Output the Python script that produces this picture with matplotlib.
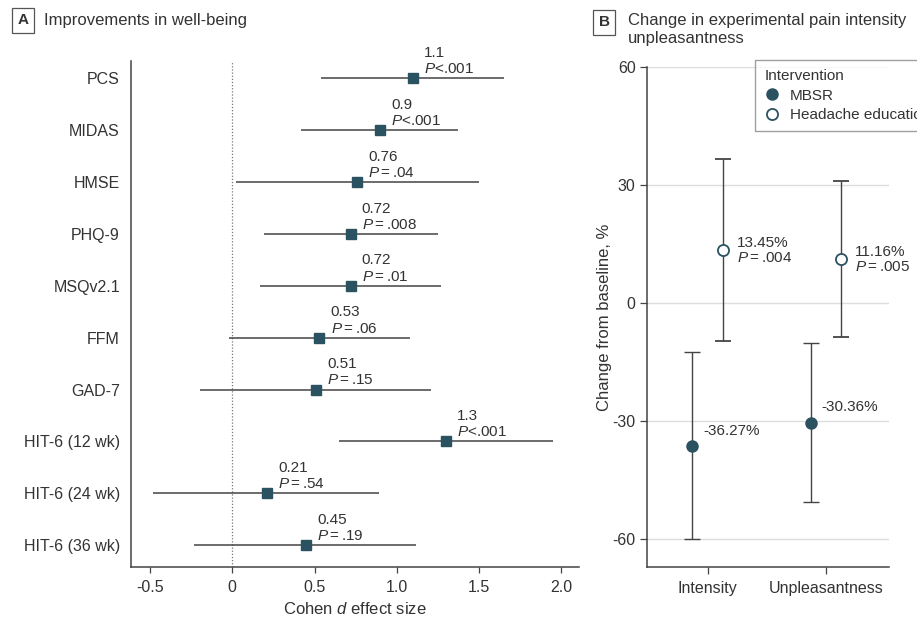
import matplotlib
matplotlib.use("Agg")
import matplotlib.pyplot as plt
from matplotlib.lines import Line2D

plt.rcParams["font.family"] = ["Liberation Sans", "DejaVu Sans"]
plt.rcParams["mathtext.fontset"] = "custom"
plt.rcParams["mathtext.rm"] = "Liberation Sans"
plt.rcParams["mathtext.it"] = "Liberation Sans:italic"

TEXT = "#333333"
TEAL = "#2b5261"
LINE = "#444444"

# Panel A: Cohen d effect sizes with 95% CI
measures = ["PCS", "MIDAS", "HMSE", "PHQ-9", "MSQv2.1", "FFM", "GAD-7",
            "HIT-6 (12 wk)", "HIT-6 (24 wk)", "HIT-6 (36 wk)"]
effect = [1.1, 0.9, 0.76, 0.72, 0.72, 0.53, 0.51, 1.3, 0.21, 0.45]
ci_low = [0.54, 0.42, 0.025, 0.195, 0.17, -0.02, -0.195, 0.65, -0.48, -0.23]
ci_high = [1.65, 1.37, 1.50, 1.25, 1.27, 1.08, 1.21, 1.95, 0.89, 1.12]
effect_text = ["1.1", "0.9", "0.76", "0.72", "0.72", "0.53", "0.51", "1.3", "0.21", "0.45"]
p_text = ["$P$<.001", "$P$<.001", "$P=$.04", "$P=$.008", "$P=$.01",
          "$P=$.06", "$P=$.15", "$P$<.001", "$P=$.54", "$P=$.19"]

# Panel B: change from baseline in experimental pain
outcomes = ["Intensity", "Unpleasantness"]
mbsr_mean = [-36.27, -30.36]
mbsr_low = [-60.0, -50.6]
mbsr_high = [-12.4, -10.1]
edu_mean = [13.45, 11.16]
edu_low = [-9.6, -8.6]
edu_high = [36.5, 31.1]
mbsr_text = ["-36.27%", "-30.36%"]
edu_text = ["13.45%\n$P=$.004", "11.16%\n$P=$.005"]

fig = plt.figure(figsize=(9.17, 6.19), dpi=100)

# ---------- panel A ----------
axA = fig.add_axes([131 / 917, 52 / 619, 448.3 / 917, 505.5 / 619])
ypos = list(range(len(measures) - 1, -1, -1))
axA.hlines(ypos, ci_low, ci_high, color=LINE, lw=1.1, zorder=2)
axA.plot(effect, ypos, "s", color=TEAL, ms=6.8, zorder=3)
axA.axvline(0, color="#777777", lw=0.9, ls=(0, (1, 1.5)), zorder=1)
for x, y, t1, t2 in zip(effect, ypos, effect_text, p_text):
    axA.annotate(t1 + "\n" + t2, (x, y), xytext=(8, 1.5), textcoords="offset points",
                 ha="left", va="bottom", fontsize=11, color=TEXT, linespacing=1.2)
axA.set_xlim(-0.616, 2.11)
axA.set_ylim(-0.42, 9.32)
axA.set_yticks(ypos)
axA.set_yticklabels(measures)
axA.set_xticks([-0.5, 0, 0.5, 1.0, 1.5, 2.0])
axA.set_xticklabels(["-0.5", "0", "0.5", "1.0", "1.5", "2.0"])
axA.tick_params(axis="y", length=0, pad=8, labelsize=11.5, labelcolor=TEXT)
axA.tick_params(axis="x", length=4, width=0.9, color=LINE, pad=5, labelsize=11.5, labelcolor=TEXT)
for s in ["top", "right"]:
    axA.spines[s].set_visible(False)
for s in ["left", "bottom"]:
    axA.spines[s].set_color(LINE)
    axA.spines[s].set_linewidth(1.1)
axA.set_xlabel("Cohen $d$ effect size", fontsize=12, color=TEXT, labelpad=5)

fig.text(23 / 917, 1 - 20.5 / 619, "A", fontsize=11, fontweight="bold", color=TEXT,
         ha="center", va="center",
         bbox=dict(boxstyle="square,pad=0.35", fc="white", ec="#555555", lw=0.9))
fig.text(44 / 917, 1 - 20.5 / 619, "Improvements in well-being", fontsize=12,
         color=TEXT, ha="left", va="center")

# ---------- panel B ----------
axB = fig.add_axes([646.7 / 917, 52 / 619, 242.3 / 917, 500.3 / 619])
xc = list(range(len(outcomes)))
off = 0.13
xm = [x - off for x in xc]
xe = [x + off for x in xc]
for yv in [60, 30, 0, -30, -60]:
    axB.axhline(yv, color="#dddddd", lw=1, zorder=0)
axB.errorbar(xm, mbsr_mean,
             yerr=[[m - l for m, l in zip(mbsr_mean, mbsr_low)],
                   [h - m for m, h in zip(mbsr_mean, mbsr_high)]],
             fmt="o", color=TEAL, ecolor=LINE, elinewidth=1, capsize=5.5, capthick=1,
             ms=8, zorder=3)
axB.errorbar(xe, edu_mean,
             yerr=[[m - l for m, l in zip(edu_mean, edu_low)],
                   [h - m for m, h in zip(edu_mean, edu_high)]],
             fmt="o", mfc="white", mec=TEAL, mew=1.3, ecolor=LINE, elinewidth=1,
             capsize=5.5, capthick=1, ms=8, zorder=3)
for x, y, t in zip(xm, mbsr_mean, mbsr_text):
    axB.annotate(t, (x, y), xytext=(8, 6), textcoords="offset points",
                 ha="left", va="bottom", fontsize=11, color=TEXT)
for x, y, t in zip(xe, edu_mean, edu_text):
    axB.annotate(t, (x, y), xytext=(10, 0), textcoords="offset points",
                 ha="left", va="center", fontsize=11, color=TEXT, linespacing=1.1)
axB.set_xlim(-0.516, 1.533)
axB.set_ylim(-67, 60)
axB.set_xticks(xc)
axB.set_xticklabels(outcomes)
axB.set_yticks([60, 30, 0, -30, -60])
axB.set_yticklabels(["60", "30", "0", "-30", "-60"])
axB.tick_params(axis="both", length=5, width=0.9, color=LINE, labelsize=11.5, labelcolor=TEXT)
axB.tick_params(axis="x", pad=5)
axB.tick_params(axis="y", pad=3)
for s in ["top", "right"]:
    axB.spines[s].set_visible(False)
for s in ["left", "bottom"]:
    axB.spines[s].set_color(LINE)
    axB.spines[s].set_linewidth(1.1)
axB.set_ylabel("Change from baseline, %", fontsize=12, color=TEXT, labelpad=0)

handles = [
    Line2D([], [], ls="none", marker="o", color=TEAL, ms=8),
    Line2D([], [], ls="none", marker="o", mfc="white", mec=TEAL, mew=1.3, ms=8),
]
leg = axB.legend(handles, ["MBSR", "Headache education"], title="Intervention",
                 loc="upper left", bbox_to_anchor=(0.447, 1.013), frameon=True,
                 fancybox=False, edgecolor="#888888", fontsize=11, title_fontsize=11,
                 handletextpad=0.7, handlelength=1.0, borderpad=0.6, labelspacing=0.35,
                 alignment="left", borderaxespad=0)
leg.get_frame().set_linewidth(1)
for t in leg.get_texts():
    t.set_color(TEXT)
leg.get_title().set_color(TEXT)

fig.text(604 / 917, 1 - 22.5 / 619, "B", fontsize=11, fontweight="bold", color=TEXT,
         ha="center", va="center",
         bbox=dict(boxstyle="square,pad=0.35", fc="white", ec="#555555", lw=0.9))
fig.text(627.7 / 917, 1 - 30 / 619, "Change in experimental pain intensity\nunpleasantness",
         fontsize=12, color=TEXT, ha="left", va="center", linespacing=1.25)

fig.savefig("out.png", dpi=100)
